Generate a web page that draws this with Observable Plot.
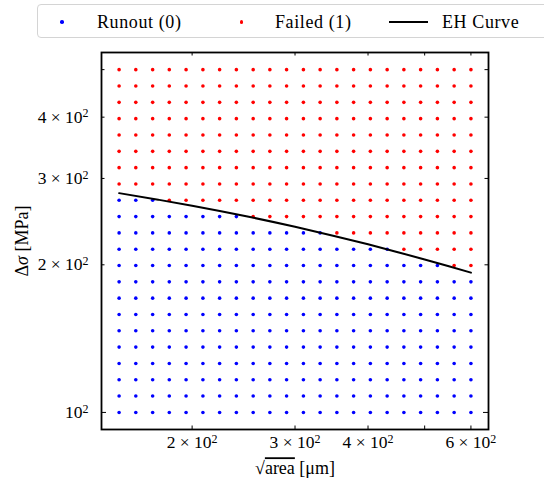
<!DOCTYPE html>
<html>
<head>
<meta charset="utf-8">
<script src="https://cdn.jsdelivr.net/npm/d3@7"></script>
<script src="https://cdn.jsdelivr.net/npm/@observablehq/plot@0.6"></script>
<style>
  html, body { margin: 0; padding: 0; background: #fff; width: 544px; height: 483px; overflow: hidden; }
  #legend { position: relative; width: 544px; height: 44px; overflow: hidden; font-family: "Liberation Serif", serif; font-size: 18px; letter-spacing: 0.6px; }
  #legend .box { position: absolute; left: 37px; top: 4px; width: 540px; height: 34px; border: 1px solid #d4d4d4; border-radius: 4px; box-sizing: border-box; }
  #legend .dot { position: absolute; width: 3.5px; height: 3.5px; border-radius: 50%; }
  #legend .ln { position: absolute; height: 2px; background: #000; }
  #legend .lab { position: absolute; top: 12px; line-height: 20px; white-space: nowrap; color: #000; }
  #chart svg { display: block; }
</style>
</head>
<body>
<div id="legend"></div>
<div id="chart"></div>
<script>
// ---- data ----
const sqrtArea = [150, 160.2, 171.2, 182.8, 195.3, 208.7, 222.9, 238.1, 254.4, 271.7, 290.2, 310.1, 331.2, 353.8, 377.9, 403.7, 431.3, 460.7, 492.1, 525.7, 561.6, 600];
const deltaSigma = [100, 108.0, 116.6, 125.8, 135.9, 146.7, 158.4, 171.0, 184.6, 199.3, 215.2, 232.3, 250.8, 270.8, 292.3, 315.6, 340.7, 367.9, 397.2, 428.8, 463.0, 500];
// number of rows (from the bottom) that are runouts, per column
const runoutRows = [14, 14, 14, 13, 13, 13, 13, 13, 12, 12, 12, 12, 12, 11, 11, 11, 11, 10, 10, 10, 9, 9];
const categories = ["Runout (0)", "Failed (1)"];
const categoryColors = ["#0000ff", "#ff0000"];
const curveLabel = "EH Curve";
const ehX = [150, 175, 200, 250, 300, 350, 400, 450, 500, 550, 600];
const ehY = [280, 271.5, 264, 250.6, 239.1, 229, 220.2, 212.2, 205.1, 198.7, 192.8];
const xTickValues = [200, 300, 400, 500, 600];
const xLabelValues = [200, 300, 400, 600];
const xLabelTexts = ["2 × 10²", "3 × 10²", "4 × 10²", "6 × 10²"];
const yTickValues = [200, 300, 400, 500];
const yMajorTicks = [100];
const yLabelValues = [100, 200, 300, 400];
const yLabelTexts = ["10²", "2 × 10²", "3 × 10²", "4 × 10²"];
const xTitle = "√area [μm]";
const yTitle = "Δσ [MPa]";

// ---- build tables ----
const points = [];
sqrtArea.forEach((x, i) => {
  deltaSigma.forEach((y, j) => {
    points.push({x, y, status: j < runoutRows[i] ? categories[0] : categories[1]});
  });
});
const eh = ehX.map((x, i) => ({x, y: ehY[i]}));

// ---- legend ----
const lg = document.getElementById("legend");
lg.innerHTML = `
  <div class="box"></div>
  <div class="dot" style="left:60.3px;top:20.3px;background:${categoryColors[0]}"></div>
  <div class="lab" style="left:97px">${categories[0]}</div>
  <div class="dot" style="left:239.8px;top:20.3px;background:${categoryColors[1]}"></div>
  <div class="lab" style="left:275px">${categories[1]}</div>
  <div class="ln" style="left:389px;top:21px;width:39px"></div>
  <div class="lab" style="left:442px">${curveLabel}</div>`;

// ---- plot ----
const W = 544, H = 439, mT = 8, mB = 54, mL = 101, mR = 56;
const fh = H - mT - mB, fw = W - mL - mR;
const font = "Liberation Serif";
const svg = Plot.plot({
  width: W, height: H,
  marginTop: mT, marginBottom: mB, marginLeft: mL, marginRight: mR,
  x: {type: "log", domain: [139.95, 643], axis: null},
  y: {type: "log", domain: [92.3, 541.9], axis: null},
  color: {domain: categories, range: categoryColors},
  marks: [
    Plot.dot(points, {x: "x", y: "y", fill: "status", r: 1.8, stroke: null}),
    Plot.line(eh, {x: "x", y: "y", stroke: "black", strokeWidth: 2, curve: "monotone-x"}),
    // inward ticks
    Plot.tickX(xTickValues, {x: d => d, insetTop: fh - 3.5, stroke: "black", strokeWidth: 1}),
    Plot.tickX(xTickValues, {x: d => d, insetBottom: fh - 3.5, stroke: "black", strokeWidth: 1}),
    Plot.tickY(yTickValues, {y: d => d, insetRight: fw - 3.5, stroke: "black", strokeWidth: 1}),
    Plot.tickY(yTickValues, {y: d => d, insetLeft: fw - 3.5, stroke: "black", strokeWidth: 1}),
    Plot.tickY(yMajorTicks, {y: d => d, insetRight: fw - 5, stroke: "black", strokeWidth: 1}),
    Plot.tickY(yMajorTicks, {y: d => d, insetLeft: fw - 5, stroke: "black", strokeWidth: 1}),
    Plot.frame({stroke: "black", strokeWidth: 1.8}),
    // tick labels
    Plot.text(xLabelValues, {x: d => d, frameAnchor: "bottom", dy: 13, text: (d, i) => xLabelTexts[i],
      fontSize: 17.5, fontFamily: font, lineAnchor: "middle", textAnchor: "middle", fill: "black"}),
    Plot.text(yLabelValues, {y: d => d, frameAnchor: "left", dx: -13, text: (d, i) => yLabelTexts[i],
      fontSize: 17.5, fontFamily: font, lineAnchor: "middle", textAnchor: "end", fill: "black"}),
    // axis titles
    Plot.text([xTitle], {frameAnchor: "bottom", dy: 39, text: d => d, fontSize: 18, fontFamily: font,
      lineAnchor: "middle", textAnchor: "middle", fill: "black", className: "xtitle"}),
    Plot.text([yTitle], {frameAnchor: "left", dx: -79, rotate: -90, text: d => d, fontSize: 18, fontFamily: font,
      lineAnchor: "middle", textAnchor: "middle", fill: "black", className: "ytitle"})
  ]
});
document.getElementById("chart").appendChild(svg);

// superscripts
d3.select(svg).selectAll("text").each(function () {
  const t = this.textContent;
  if (t.endsWith("²")) {
    const base = t.slice(0, -1);
    this.textContent = base;
    d3.select(this).append("tspan").attr("dy", "-0.45em").attr("font-size", "12px").text("2");
  }
});
// x title with overline over "area"
d3.select(svg).selectAll(".xtitle text").each(function () {
  const sel = d3.select(this);
  sel.text("");
  sel.append("tspan").text("√");
  sel.append("tspan").attr("text-decoration", "overline").style("text-decoration", "overline").text("area");
  sel.append("tspan").text(" [μm]");
});
// y title with italic sigma
d3.select(svg).selectAll(".ytitle text").each(function () {
  const sel = d3.select(this);
  sel.text("");
  sel.append("tspan").text("Δ");
  sel.append("tspan").attr("font-style", "italic").text("σ");
  sel.append("tspan").text(" [MPa]");
});
</script>
</body>
</html>
